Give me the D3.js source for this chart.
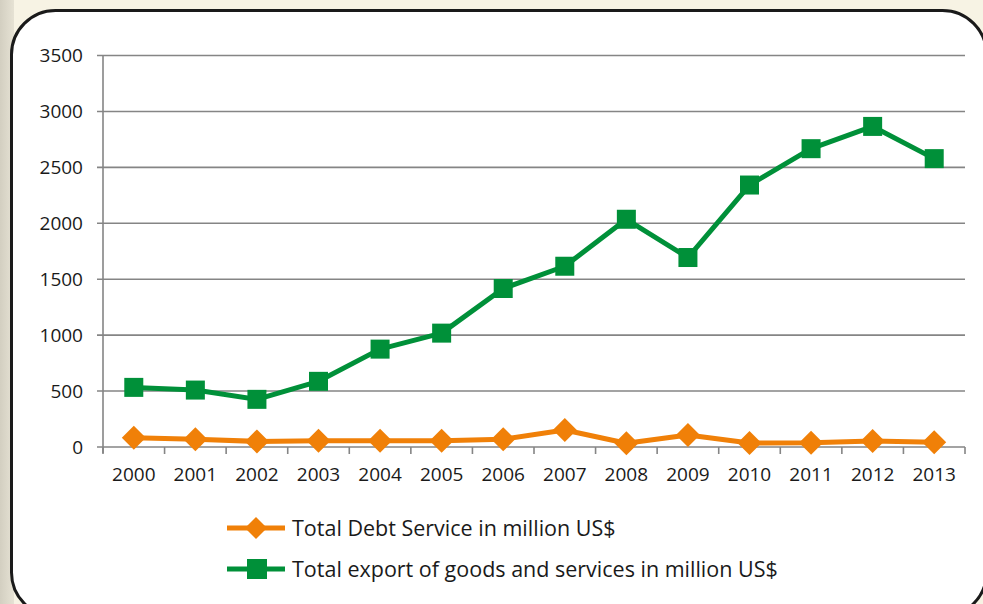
<!DOCTYPE html>
<html>
<head>
<meta charset="utf-8">
<script src="https://cdn.jsdelivr.net/npm/d3@7"></script>
<style>
  html, body { margin: 0; padding: 0; background: #f6f2e3; }
  svg { display: block; }
</style>
</head>
<body>
<svg id="chart" width="983" height="604"></svg>
<script>
// Years on the category axis
const years = ["2000","2001","2002","2003","2004","2005","2006","2007","2008","2009","2010","2011","2012","2013"];
// Total debt service, million US$
const debtService = [83, 69, 50, 56, 55, 55, 69, 152, 33, 107, 36, 38, 54, 42];
// Total export of goods and services, million US$
const exportsTotal = [533, 509, 426, 587, 875, 1018, 1417, 1616, 2036, 1694, 2342, 2667, 2866, 2578];
// Value axis ticks
const yTicks = [0, 500, 1000, 1500, 2000, 2500, 3000, 3500];
const seriesNames = ["Total Debt Service in million US$", "Total export of goods and services in million US$"];

const orange = "#f08008";
const green = "#009039";
const font = "'Open Sans', sans-serif";

const svg = d3.select("#chart");

// Page backdrop: warm paper with a stone strip on the left
const defs = svg.append("defs");
const grad = defs.append("linearGradient").attr("id", "stone").attr("x1", 0).attr("x2", 1);
grad.append("stop").attr("offset", 0).attr("stop-color", "#d3cfc1");
grad.append("stop").attr("offset", 1).attr("stop-color", "#e6e2d4");
svg.append("rect").attr("width", 983).attr("height", 604).attr("fill", "#f7f3e4");
svg.append("rect").attr("x", 0).attr("y", 0).attr("width", 14).attr("height", 604).attr("fill", "url(#stone)");

// White rounded panel
svg.append("rect")
  .attr("x", 11.5).attr("y", 10.5).attr("width", 975).attr("height", 606)
  .attr("rx", 44).attr("ry", 44)
  .attr("fill", "#ffffff").attr("stroke", "#1a1a1a").attr("stroke-width", 3);

const x = d3.scaleBand().domain(years).range([103, 965]).padding(0);
const y = d3.scaleLinear().domain([0, 3500]).range([447, 55.5]);

// Horizontal gridlines with left tick stubs
svg.append("g").selectAll("line").data(yTicks).join("line")
  .attr("x1", 97).attr("x2", 965)
  .attr("y1", d => y(d)).attr("y2", d => y(d))
  .attr("stroke", "#858585").attr("stroke-width", 1.6);

// Vertical axis line
svg.append("line")
  .attr("x1", 103).attr("x2", 103).attr("y1", y(3500)).attr("y2", y(0) + 6)
  .attr("stroke", "#858585").attr("stroke-width", 1.6);

// Y tick labels
svg.append("g").selectAll("text").data(yTicks).join("text")
  .attr("x", 83).attr("y", d => y(d))
  .attr("dy", "0.36em")
  .attr("text-anchor", "end")
  .attr("font-family", font).attr("font-size", 19)
  .attr("fill", "#1a1a1a")
  .text(d => d);

// X category boundary ticks
const bounds = years.map(d => x(d)).concat([x(years[years.length - 1]) + x.bandwidth()]);
svg.append("g").selectAll("line").data(bounds).join("line")
  .attr("x1", d => d).attr("x2", d => d)
  .attr("y1", y(0)).attr("y2", y(0) + 7)
  .attr("stroke", "#858585").attr("stroke-width", 1.6);

// X labels
svg.append("g").selectAll("text").data(years).join("text")
  .attr("x", d => x(d) + x.bandwidth() / 2)
  .attr("y", 481)
  .attr("text-anchor", "middle")
  .attr("font-family", font).attr("font-size", 19)
  .attr("fill", "#1a1a1a")
  .text(d => d);

const cx = d => x(d) + x.bandwidth() / 2;
const line = d3.line().x((d, i) => cx(years[i])).y(d => y(d));

// Export series: green line with square markers
svg.append("path").datum(exportsTotal)
  .attr("d", line).attr("fill", "none")
  .attr("stroke", green).attr("stroke-width", 5).attr("stroke-linejoin", "round");
const sq = 19;
svg.append("g").selectAll("rect").data(exportsTotal).join("rect")
  .attr("x", (d, i) => cx(years[i]) - sq / 2)
  .attr("y", d => y(d) - sq / 2)
  .attr("width", sq).attr("height", sq)
  .attr("fill", green);

// Debt service series: orange line with diamond markers
svg.append("path").datum(debtService)
  .attr("d", line).attr("fill", "none")
  .attr("stroke", orange).attr("stroke-width", 5).attr("stroke-linejoin", "round");
const dm = 12;
const diamond = `M0,${-dm}L${dm},0L0,${dm}L${-dm},0Z`;
svg.append("g").selectAll("path").data(debtService).join("path")
  .attr("transform", (d, i) => `translate(${cx(years[i])},${y(d)})`)
  .attr("d", diamond)
  .attr("fill", orange);

// Legend
const legend = svg.append("g");
const rows = [
  { name: seriesNames[0], color: orange, shape: "diamond", ly: 528 },
  { name: seriesNames[1], color: green, shape: "square", ly: 569 }
];
rows.forEach(r => {
  legend.append("line")
    .attr("x1", 227).attr("x2", 285).attr("y1", r.ly).attr("y2", r.ly)
    .attr("stroke", r.color).attr("stroke-width", 5);
  if (r.shape === "diamond") {
    legend.append("path").attr("transform", `translate(256,${r.ly})`)
      .attr("d", `M0,-11L11,0L0,11L-11,0Z`).attr("fill", r.color);
  } else {
    legend.append("rect").attr("x", 247).attr("y", r.ly - 10).attr("width", 20).attr("height", 20)
      .attr("fill", r.color);
  }
  legend.append("text")
    .attr("x", 292).attr("y", r.ly).attr("dy", "0.36em")
    .attr("font-family", font).attr("font-size", 21.5)
    .attr("fill", "#1a1a1a")
    .text(r.name);
});
</script>
</body>
</html>
